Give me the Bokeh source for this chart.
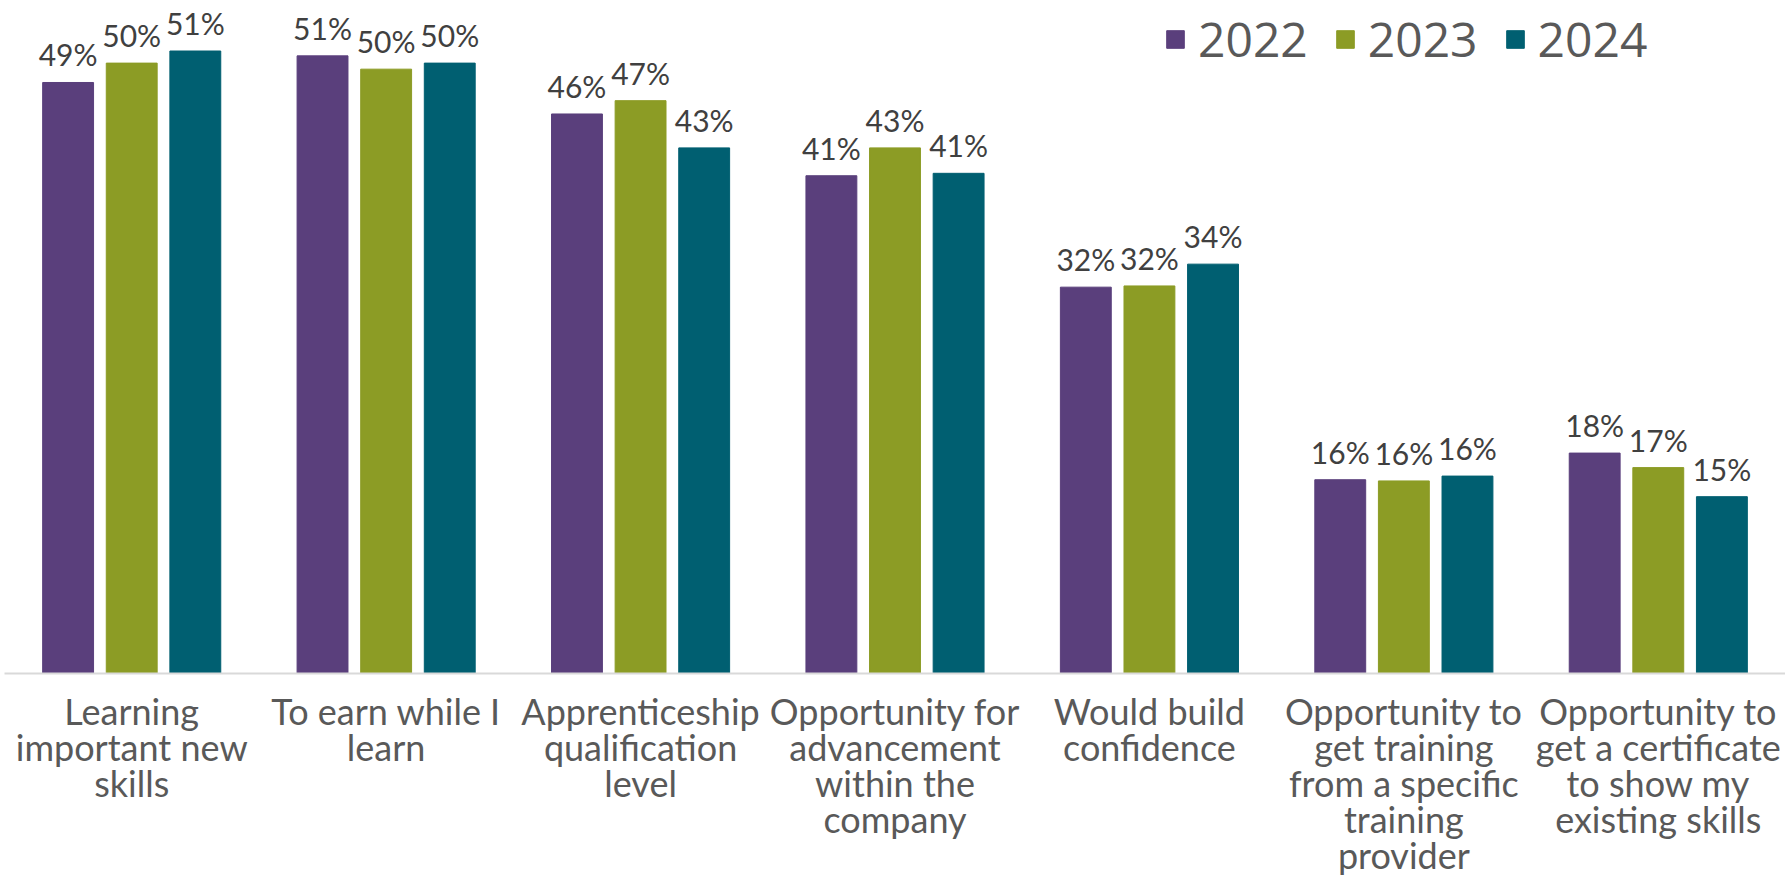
from bokeh.plotting import figure
from bokeh.models import ColumnDataSource, FactorRange, Range1d, Legend, LegendItem
from bokeh.transform import dodge
from bokeh.core.properties import value
from bokeh.embed import file_html
from bokeh.resources import INLINE

categories = [
    "Learning\nimportant new\nskills",
    "To earn while I\nlearn",
    "Apprenticeship\nqualification\nlevel",
    "Opportunity for\nadvancement\nwithin the\ncompany",
    "Would build\nconfidence",
    "Opportunity to\nget training\nfrom a specific\ntraining\nprovider",
    "Opportunity to\nget a certificate\nto show my\nexisting skills",
]
years = ["2022", "2023", "2024"]
v2022 = [48.8, 51.0, 46.2, 41.1, 31.9, 16.0, 18.2]
v2023 = [50.4, 49.9, 47.3, 43.4, 32.0, 15.9, 17.0]
v2024 = [51.4, 50.4, 43.4, 41.3, 33.8, 16.3, 14.6]
colors = ["#5a3f7c", "#8c9c25", "#005f71"]

src = ColumnDataSource(dict(
    cat=categories,
    v2022=v2022, v2023=v2023, v2024=v2024,
    l2022=[f"{v:.0f}%" for v in v2022],
    l2023=[f"{v:.0f}%" for v in v2023],
    l2024=[f"{v:.0f}%" for v in v2024],
))

p = figure(width=1785, height=879, output_backend="svg", toolbar_location=None,
           x_range=FactorRange(*categories, range_padding=0), y_range=Range1d(0, 55.57),
           min_border_left=4, min_border_right=0, min_border_top=0, min_border_bottom=206)

offsets = [-0.25, 0.0, 0.25]
renderers = []
for yr, off, col in zip(years, offsets, colors):
    r = p.vbar(x=dodge("cat", off, range=p.x_range), top="v" + yr, width=0.2, source=src,
               fill_color=col, line_color=col)
    renderers.append(r)
    p.text(x=dodge("cat", off, range=p.x_range), y="v" + yr, text="l" + yr, source=src,
           y_offset=-28, text_align="center", text_baseline="alphabetic",
           text_font=value("Lato"), text_font_size="30px", text_color="#404040")

legend = Legend(items=[LegendItem(label=yr, renderers=[r]) for yr, r in zip(years, renderers)],
                orientation="horizontal", location=(1160, 602),
                glyph_width=22, glyph_height=22, label_standoff=12, spacing=26,
                padding=0, margin=0, border_line_alpha=0, background_fill_alpha=0,
                label_text_font="Open Sans", label_text_font_size="48px",
                label_text_color="#595959")
p.add_layout(legend)

p.yaxis.visible = False
p.xgrid.grid_line_color = None
p.ygrid.grid_line_color = None
p.outline_line_color = None
p.xaxis.axis_line_color = "#d9d9d9"
p.xaxis.axis_line_width = 2
p.xaxis.major_tick_line_color = None
p.xaxis.major_tick_out = 0
p.xaxis.major_tick_in = 0
p.xaxis.minor_tick_line_color = None
p.xaxis.major_label_standoff = 15
p.xaxis.major_label_text_font = "Lato"
p.xaxis.major_label_text_font_size = "36px"
p.xaxis.major_label_text_color = "#595959"
p.xaxis.major_label_text_line_height = 0.82
p.xaxis.major_label_orientation = "horizontal"

open("out.html", "w").write(file_html(p, INLINE))
